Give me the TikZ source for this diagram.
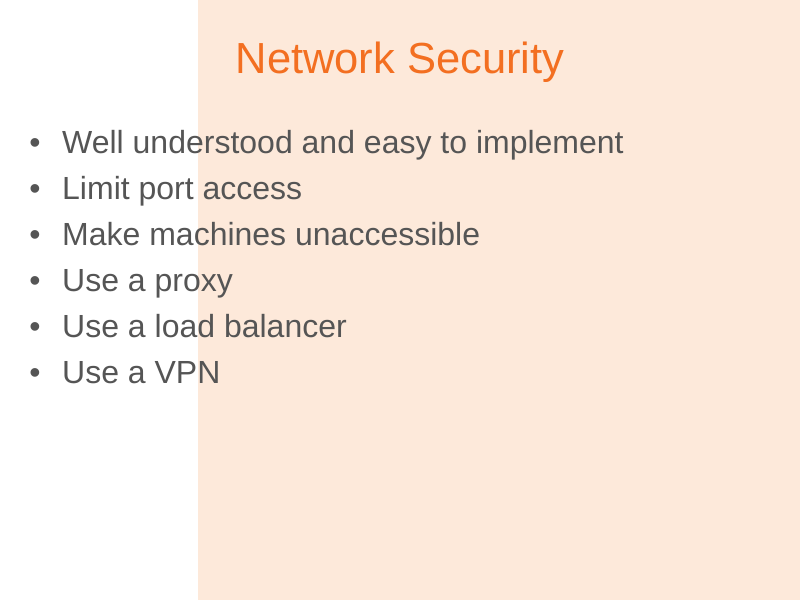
\documentclass[tikz,border=0pt]{standalone}
\usepackage{fontspec}
\setmainfont{Liberation Sans}
\definecolor{peach}{HTML}{FDE9DA}
\definecolor{orng}{HTML}{F36F21}
\definecolor{txt}{HTML}{555555}
\begin{document}
\begin{tikzpicture}[x=1pt,y=-1pt,
  item/.style={anchor=base west,inner sep=0pt,text=txt,font=\fontsize{32}{36}\selectfont},
  bul/.style={anchor=base,inner sep=0pt,text=txt,font=\fontsize{32}{36}\selectfont}]
\fill[white] (0,0) rectangle (800,600);
\fill[peach] (198,0) rectangle (800,600);
\useasboundingbox (0,0) rectangle (800,600);
\node[anchor=base,text=orng,font=\fontsize{43.5}{50}\selectfont,inner sep=0pt] (title) at (400,73) {Network Security};
\foreach \t [count=\i] in {Well understood and easy to implement,Limit port access,Make machines unaccessible,Use a proxy,Use a load balancer,Use a VPN}{
  \node[bul] (b\i) at (35,{153+46*(\i-1)}) {•};
  \node[item] (t\i) at (62,{153+46*(\i-1)}) {\t};
}
\end{tikzpicture}
\end{document}
